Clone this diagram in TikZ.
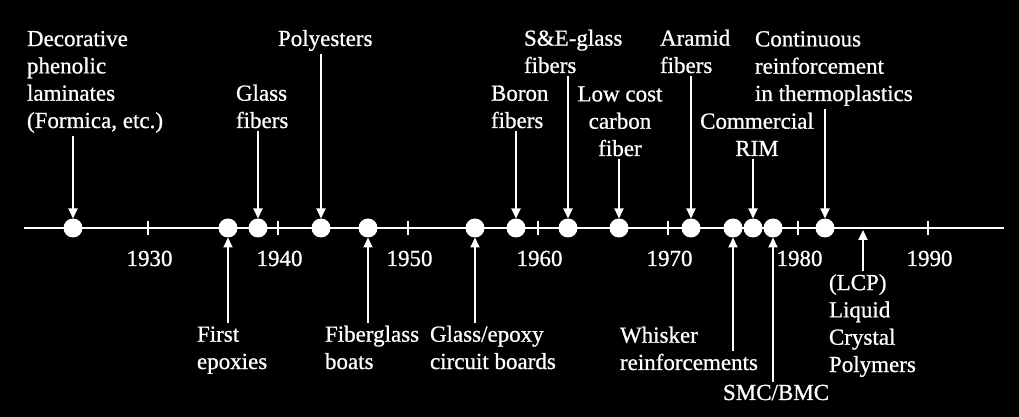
\documentclass[tikz,border=0pt]{standalone}
\usepackage{fontspec}
\setmainfont[FakeBold=0.8]{Liberation Serif}
\usetikzlibrary{arrows.meta}

\begin{document}
\begin{tikzpicture}[x=0.5pt, y=-0.5pt,
    every node/.style={text=white, font=\fontsize{11.5}{13.65}\selectfont},
    event/.style={circle, fill=white, minimum size=9.5pt, inner sep=0pt, outer sep=0pt},
    note/.style={inner sep=0pt, outer sep=1.5pt, align=left},
    ptr/.style={white, line width=1pt, -{Triangle[width=4.5pt,length=5pt]}},
    axisline/.style={white, line width=1pt}]
  \useasboundingbox (0,0) rectangle (1019,417);
  \fill[black] (0,0) rectangle (1019,417);
  % --- time axis -------------------------------------------------------
  \draw[axisline] (24,228) -- (1004,228);
  \foreach \yr [count=\i from 0] in {1930,1940,1950,1960,1970,1980,1990} {
    \draw[axisline] ({147.5+130*\i},221) -- ({147.5+130*\i},235);
    \node[anchor=base] (y\yr) at ({149.5+130*\i},266) {\yr};
  }
  \foreach \name/\x in {decor/73, epox/228, glfib/258, poly/321, boats/368,
      circ/475, boron/516, segl/568, carb/619, aram/691, whisk/733,
      rim/753, smc/773, cont/825}
    \node[event] (d-\name) at (\x,228) {};
  \coordinate (lcp-tip) at (863,230);

  % --- labels above the axis (base = last line) ------------------------
  \node[note, anchor=base west] (decor) at (24,128) {Decorative\\phenolic\\laminates\\(Formica, etc.)};
  \node[note, anchor=base west] (glfib) at (233,128) {Glass\\fibers};
  \node[note, anchor=base west] (poly) at (275,46) {Polyesters};
  \node[note, anchor=base west] (boron) at (488,128) {Boron\\fibers};
  \node[note, anchor=base west] (segl) at (521,73) {S\&E-glass\\fibers};
  \node[note, align=center, anchor=base] (carb) at (620,156) {Low cost\\carbon\\fiber};
  \node[note, anchor=base west] (aram) at (657,73) {Aramid\\fibers};
  \node[note, align=center, anchor=base] (rim) at (757,156) {Commercial\\RIM};
  \node[note, anchor=base west] (cont) at (752,101) {Continuous\\reinforcement\\in thermoplastics};

  % --- labels below the axis -------------------------------------------
  \node[note, anchor=base west] (epox) at (194,369) {First\\epoxies};
  \node[note, anchor=base west] (boats) at (322,369) {Fiberglass\\boats};
  \node[note, anchor=base west] (circ) at (427,369) {Glass/epoxy\\circuit boards};
  \node[note, anchor=base west] (whisk) at (617,370) {Whisker\\reinforcements};
  \node[note, anchor=base west] (smc) at (720,400) {SMC/BMC};
  \node[note, anchor=base west] (lcp) at (826,372) {(LCP)\\Liquid\\Crystal\\Polymers};

  % --- pointers ----------------------------------------------------------
  \foreach \name in {decor, glfib, poly, boron, segl, carb, aram, rim, cont}
    \draw[ptr] (d-\name |- \name.south) -- (d-\name);
  \foreach \name in {epox, boats, circ, smc}
    \draw[ptr] (d-\name |- \name.north) -- (d-\name);
  \draw[ptr] ([yshift=-13.65pt]d-whisk |- whisk.north) -- (d-whisk);
  \draw[ptr] (lcp-tip |- lcp.north) -- (lcp-tip);
\end{tikzpicture}
\end{document}
